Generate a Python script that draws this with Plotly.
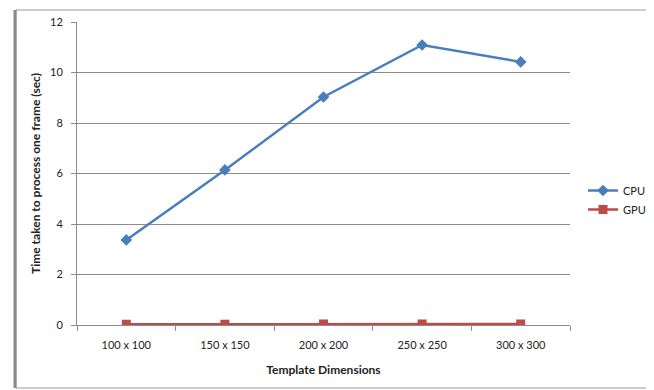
import plotly.graph_objects as go

categories = ["100 x 100", "150 x 150", "200 x 200", "250 x 250", "300 x 300"]
cpu = [3.37, 6.14, 9.03, 11.09, 10.42]
gpu = [0.03, 0.03, 0.04, 0.04, 0.04]

# page body has an 8px margin, so the figure is drawn 8px in from the window edges
OFF = 8
W, H = 654 - OFF, 390 - OFF
L, T = 77 - OFF, 22 - OFF
PR, PB = 570 - OFF, 325 - OFF
R, B = W - PR, H - PB
pw, ph = PR - L, PB - T

def px(x):
    return (x - OFF - L) / pw

def py(y):
    return (PB - (y - OFF)) / ph

fig = go.Figure()
fig.add_trace(go.Scatter(x=categories, y=cpu, name="CPU", mode="lines+markers",
                         line=dict(color="#4a7ebb", width=2.5),
                         marker=dict(symbol="diamond", size=9, color="#4a7ebb")))
fig.add_trace(go.Scatter(x=categories, y=gpu, name="GPU", mode="lines+markers",
                         line=dict(color="#be4b48", width=2.5),
                         marker=dict(symbol="square", size=9, color="#be4b48")))

font = "Lato, 'Open Sans', sans-serif"
fig.update_layout(
    width=W, height=H,
    margin=dict(l=L, r=R, t=T, b=B, autoexpand=False),
    paper_bgcolor="white", plot_bgcolor="white",
    font=dict(family=font, size=11, color="#222"),
    showlegend=True,
    legend=dict(x=px(583), y=py(200), xanchor="left", yanchor="middle",
                font=dict(size=11), tracegroupgap=8, itemwidth=30,
                bgcolor="rgba(0,0,0,0)"),
    xaxis=dict(type="category", range=[-0.5, 4.5], showgrid=False,
               showline=True, linecolor="#8c8c8c", linewidth=1,
               ticks="outside", tickson="boundaries", ticklen=5, tickcolor="#8c8c8c",
               ticklabelstandoff=10,
               title=dict(text="<b>Template Dimensions</b>", font=dict(size=12), standoff=15),
               tickfont=dict(size=11)),
    yaxis=dict(range=[0, 12], dtick=2, showgrid=True, gridcolor="#8c8c8c", gridwidth=1,
               showline=True, linecolor="#8c8c8c", linewidth=1, zeroline=False,
               ticks="outside", ticklen=5, tickcolor="#8c8c8c",
               ticklabelstandoff=6,
               title=dict(text="<b>Time taken to process one frame (sec)</b>", font=dict(size=12), standoff=6),
               tickfont=dict(size=11)),
)

# Outer chart border
fig.add_shape(type="rect", xref="paper", yref="paper",
              x0=px(16), x1=px(648), y0=py(388), y1=py(10),
              line=dict(color="#9a9a9a", width=1), layer="above")
fig.add_shape(type="line", xref="paper", yref="paper",
              x0=px(15), x1=px(15), y0=py(388), y1=py(10),
              line=dict(color="#8a8a8a", width=3), layer="above")

fig.write_html("out.html")
